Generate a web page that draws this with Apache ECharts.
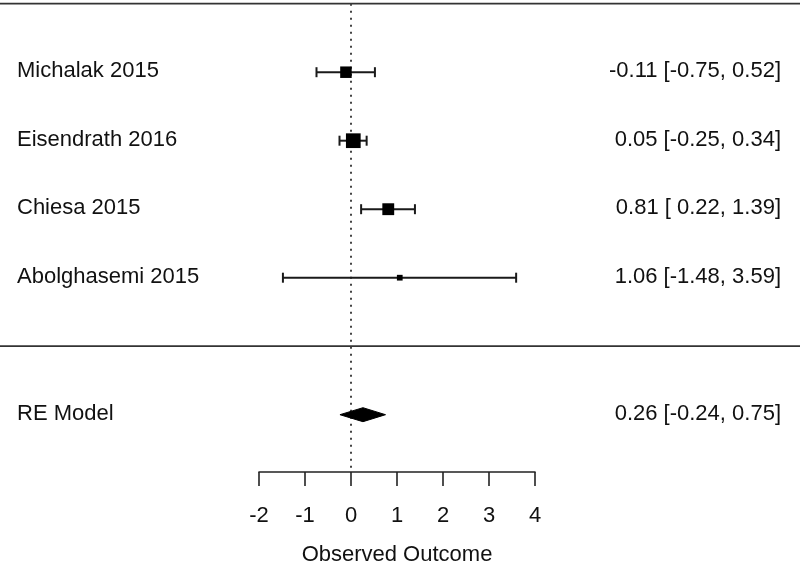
<!DOCTYPE html>
<html><head><meta charset="utf-8">
<script src="https://cdn.jsdelivr.net/npm/echarts@6/dist/echarts.min.js"></script>
<style>html,body{margin:0;padding:0;background:#fff}#c{width:800px;height:569px}</style>
</head><body><div id="c"></div>
<script>
// ---- data ----
const studies = ['Michalak 2015', 'Eisendrath 2016', 'Chiesa 2015', 'Abolghasemi 2015'];
const estimates = [-0.11, 0.05, 0.81, 1.06];
const ciLower = [-0.75, -0.25, 0.22, -1.48];
const ciUpper = [0.52, 0.34, 1.39, 3.59];
const summaryLabel = ['RE Model'];
const summaryEst = [0.26];
const summaryLower = [-0.24];
const summaryUpper = [0.75];
const xTicks = [-2, -1, 0, 1, 2, 3, 4];
const axisTitle = 'Observed Outcome';

// ---- layout ----
const W = 800, H = 569;
const PX0 = 351, PXU = 46;            // pixel of x=0, pixels per unit
const XMIN = -PX0 / PXU, XMAX = (W - PX0) / PXU;
const ROW0 = 346.2, ROWH = 68.5;      // pixel of row 0, pixels per row
const YMAX = ROW0 / ROWH, YMIN = -(H - ROW0) / ROWH;
const K = studies.length;
const TOP_ROW = K + 1, SUM_ROW = -1;
const AXIS_Y = 472;
const AXIS_ROW = (ROW0 - AXIS_Y) / ROWH;
const FONT = '"Liberation Sans", Arial, Helvetica, sans-serif';
const FS = 22;
const INK = '#111';
const LEFT_TX = 17, RIGHT_TX = 781;

const f2 = v => v.toFixed(2);
const padLo = v => (v < 0 ? '' : ' ') + f2(v);
const ciText = (e, l, u) => `${f2(e)} [${padLo(l)}, ${f2(u)}]`;

const studyData = studies.map((s, i) => [estimates[i], ciLower[i], ciUpper[i], K - i, i]);
const sumData = summaryEst.map((e, i) => [e, summaryLower[i], summaryUpper[i], SUM_ROW, i]);

function sizeFor(lo, hi) {
  const se = (hi - lo) / 3.92;
  return 6.8 + 4.18 * Math.log(1 / se);
}

function textEl(x, y, str, align) {
  return { type: 'text', x: x, y: y - 1, style: { text: str, font: FS + 'px ' + FONT, fill: INK, align: align, verticalAlign: 'middle' } };
}

const chart = echarts.init(document.getElementById('c'), null, { renderer: 'canvas' });
chart.setOption({
  animation: false,
  backgroundColor: '#fff',
  grid: [
    { left: 0, right: 0, top: 0, bottom: 0 },
    { left: PX0 + xTicks[0] * PXU, width: (xTicks[xTicks.length - 1] - xTicks[0]) * PXU, top: AXIS_Y - 1, height: 1 }
  ],
  xAxis: [
    { gridIndex: 0, type: 'value', min: XMIN, max: XMAX, show: false },
    {
      gridIndex: 1, type: 'value', min: xTicks[0], max: xTicks[xTicks.length - 1], interval: 1, position: 'bottom',
      axisLine: { show: true, lineStyle: { color: '#222', width: 1.6 } },
      axisTick: { show: true, inside: false, length: 14, lineStyle: { color: '#222', width: 1.6 } },
      axisLabel: { show: true, margin: 33, color: INK, fontSize: FS, fontFamily: FONT },
      splitLine: { show: false },
      name: axisTitle, nameLocation: 'middle', nameGap: 72,
      nameTextStyle: { color: INK, fontSize: FS, fontFamily: FONT }
    }
  ],
  yAxis: [
    { gridIndex: 0, type: 'value', min: YMIN, max: YMAX, show: false },
    { gridIndex: 1, type: 'value', min: 0, max: 1, show: false }
  ],
  series: [
    { type: 'line', xAxisIndex: 0, yAxisIndex: 0, symbol: 'none', silent: true, z: 1,
      data: [[XMIN, TOP_ROW], [XMAX, TOP_ROW]], lineStyle: { color: '#333', width: 1.8 } },
    { type: 'line', xAxisIndex: 0, yAxisIndex: 0, symbol: 'none', silent: true, z: 1,
      data: [[XMIN, 0], [XMAX, 0]], lineStyle: { color: '#333', width: 1.8 } },
    { type: 'line', xAxisIndex: 0, yAxisIndex: 0, symbol: 'none', silent: true, z: 1,
      data: [[0, TOP_ROW], [0, AXIS_ROW + 0.06]], lineStyle: { color: '#444', width: 2, type: [2, 5] } },
    {
      type: 'custom', xAxisIndex: 0, yAxisIndex: 0, data: studyData, clip: false, z: 5,
      encode: { x: [0, 1, 2], y: 3 },
      renderItem: function (params, api) {
        const e = api.value(0), lo = api.value(1), hi = api.value(2), r = api.value(3), i = api.value(4);
        const pe = api.coord([e, r]), pl = api.coord([lo, r]), ph = api.coord([hi, r]);
        const s = sizeFor(lo, hi);
        const ls = { stroke: '#1a1a1a', lineWidth: 2 };
        return { type: 'group', children: [
          { type: 'line', shape: { x1: pl[0], y1: pl[1], x2: ph[0], y2: ph[1] }, style: ls },
          { type: 'line', shape: { x1: pl[0], y1: pl[1] - 5, x2: pl[0], y2: pl[1] + 5 }, style: ls },
          { type: 'line', shape: { x1: ph[0], y1: ph[1] - 5, x2: ph[0], y2: ph[1] + 5 }, style: ls },
          { type: 'rect', shape: { x: pe[0] - s / 2, y: pe[1] - s / 2, width: s, height: s }, style: { fill: '#000' } },
          textEl(LEFT_TX, pe[1], studies[i], 'left'),
          textEl(RIGHT_TX, pe[1], ciText(e, lo, hi), 'right')
        ] };
      }
    },
    {
      type: 'custom', xAxisIndex: 0, yAxisIndex: 0, data: sumData, clip: false, z: 5,
      encode: { x: [0, 1, 2], y: 3 },
      renderItem: function (params, api) {
        const e = api.value(0), lo = api.value(1), hi = api.value(2), r = api.value(3), i = api.value(4);
        const pe = api.coord([e, r]), pl = api.coord([lo, r]), ph = api.coord([hi, r]);
        const hh = 7;
        return { type: 'group', children: [
          { type: 'polygon', shape: { points: [[pl[0], pl[1]], [pe[0], pe[1] - hh], [ph[0], ph[1]], [pe[0], pe[1] + hh]] },
            style: { fill: '#000', stroke: '#000', lineWidth: 1 } },
          textEl(LEFT_TX, pe[1], summaryLabel[i], 'left'),
          textEl(RIGHT_TX, pe[1], ciText(e, lo, hi), 'right')
        ] };
      }
    }
  ]
});
</script>
</body></html>
